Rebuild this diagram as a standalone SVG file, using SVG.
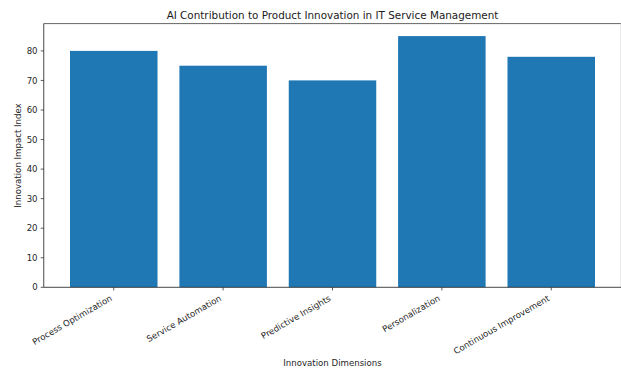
<svg xmlns="http://www.w3.org/2000/svg" width="621" height="368" viewBox="0 0 621 368">
<style>
.t{font-family:"DejaVu Sans",sans-serif;font-size:8.6px;fill:#262626}
.title{font-family:"DejaVu Sans",sans-serif;font-size:10.4px;fill:#1a1a1a}
.bar{fill:#1f77b4}
.tick{stroke:#333;stroke-width:0.8}
</style>
<rect width="621" height="368" fill="#fff"/>
<text class="title" x="332.5" y="18.6" text-anchor="middle">AI Contribution to Product Innovation in IT Service Management</text>
<g id="bars">
<rect class="bar" x="70" y="50.9" width="87.5" height="236.4"/>
<rect class="bar" x="179.4" y="65.7" width="87.5" height="221.6"/>
<rect class="bar" x="288.75" y="80.4" width="87.5" height="206.9"/>
<rect class="bar" x="398.1" y="36.1" width="87.5" height="251.2"/>
<rect class="bar" x="507.5" y="56.8" width="87.5" height="230.5"/>
</g>
<g id="spines" fill="none">
<line x1="43.75" y1="23.6" x2="621" y2="23.6" stroke="#555" stroke-width="0.9"/>
<line x1="620.5" y1="23.6" x2="620.5" y2="287.3" stroke="#ddd" stroke-width="0.6"/>
<line x1="43.75" y1="23.6" x2="43.75" y2="287.3" stroke="#333" stroke-width="0.9"/>
<line x1="43.75" y1="287.3" x2="621" y2="287.3" stroke="#333" stroke-width="0.9"/>
</g>
<g id="yticks">
<line class="tick" x1="40.7" y1="287.3" x2="43.75" y2="287.3"/>
<line class="tick" x1="40.7" y1="257.75" x2="43.75" y2="257.75"/>
<line class="tick" x1="40.7" y1="228.2" x2="43.75" y2="228.2"/>
<line class="tick" x1="40.7" y1="198.65" x2="43.75" y2="198.65"/>
<line class="tick" x1="40.7" y1="169.1" x2="43.75" y2="169.1"/>
<line class="tick" x1="40.7" y1="139.55" x2="43.75" y2="139.55"/>
<line class="tick" x1="40.7" y1="110" x2="43.75" y2="110"/>
<line class="tick" x1="40.7" y1="80.45" x2="43.75" y2="80.45"/>
<line class="tick" x1="40.7" y1="50.9" x2="43.75" y2="50.9"/>
<text class="t" text-anchor="end" x="37.6" y="290.4">0</text>
<text class="t" text-anchor="end" x="37.6" y="260.85">10</text>
<text class="t" text-anchor="end" x="37.6" y="231.3">20</text>
<text class="t" text-anchor="end" x="37.6" y="201.75">30</text>
<text class="t" text-anchor="end" x="37.6" y="172.2">40</text>
<text class="t" text-anchor="end" x="37.6" y="142.65">50</text>
<text class="t" text-anchor="end" x="37.6" y="113.1">60</text>
<text class="t" text-anchor="end" x="37.6" y="83.55">70</text>
<text class="t" text-anchor="end" x="37.6" y="54">80</text>
</g>
<g id="xticks">
<line class="tick" x1="113.75" y1="287.3" x2="113.75" y2="290.4"/>
<line class="tick" x1="223.1" y1="287.3" x2="223.1" y2="290.4"/>
<line class="tick" x1="332.5" y1="287.3" x2="332.5" y2="290.4"/>
<line class="tick" x1="441.9" y1="287.3" x2="441.9" y2="290.4"/>
<line class="tick" x1="551.25" y1="287.3" x2="551.25" y2="290.4"/>
<text class="t" text-anchor="end" transform="translate(112.7,300) rotate(-30)">Process Optimization</text>
<text class="t" text-anchor="end" transform="translate(222.05,300) rotate(-30)">Service Automation</text>
<text class="t" text-anchor="end" transform="translate(331.45,300) rotate(-30)">Predictive Insights</text>
<text class="t" text-anchor="end" transform="translate(440.85,300) rotate(-30)">Personalization</text>
<text class="t" text-anchor="end" transform="translate(550.2,300) rotate(-30)">Continuous Improvement</text>
</g>
<g id="labels">
<text class="t" text-anchor="middle" x="332.5" y="366">Innovation Dimensions</text>
<text class="t" text-anchor="middle" transform="translate(21.3,155.5) rotate(-90)">Innovation Impact Index</text>
</g>
</svg>
